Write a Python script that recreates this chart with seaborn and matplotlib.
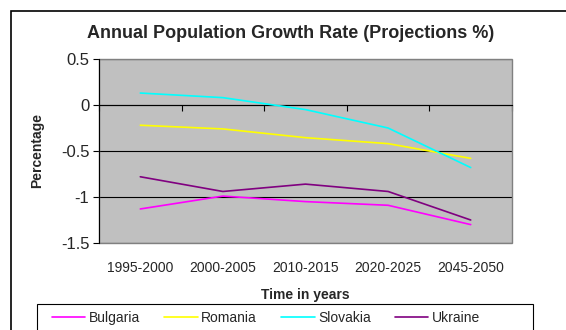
import numpy as np
import pandas as pd
import matplotlib
matplotlib.use("Agg")
import matplotlib.pyplot as plt
from matplotlib.patches import Rectangle
import seaborn as sns

periods = ["1995-2000", "2000-2005", "2010-2015", "2020-2025", "2045-2050"]
countries = ["Bulgaria", "Romania", "Slovakia", "Ukraine"]
bulgaria = [-1.13, -0.99, -1.05, -1.09, -1.30]
romania = [-0.22, -0.26, -0.355, -0.42, -0.58]
slovakia = [0.13, 0.08, -0.05, -0.25, -0.68]
ukraine = [-0.78, -0.94, -0.86, -0.94, -1.25]
colors = ["#FF00FF", "#FFFF00", "#00FFFF", "#800080"]

series = dict(zip(countries, [bulgaria, romania, slovakia, ukraine]))
df = pd.DataFrame(
    [(c, p, v) for c in countries for p, v in zip(periods, series[c])],
    columns=["country", "period", "value"],
)
df["pos"] = df["period"].map({p: i for i, p in enumerate(periods)})

sns.set_theme(style="white")
plt.rcParams["font.family"] = ["Liberation Sans", "DejaVu Sans"]

W, H = 566, 330
fig = plt.figure(figsize=(W / 100, H / 100), dpi=100)
fig.patch.set_facecolor("white")
ax = fig.add_axes([99 / W, 1 - 243 / H, 413 / W, 184 / H])
ax.set_facecolor("#C0C0C0")

sns.lineplot(
    data=df, x="pos", y="value", hue="country", hue_order=countries,
    palette=colors, linewidth=1.2, ax=ax, legend=False, zorder=3,
)

ax.set_xlim(-0.5, len(periods) - 0.5)
ax.set_ylim(-1.5, 0.5)
ax.set_yticks(np.arange(-1.5, 0.51, 0.5))
ax.set_yticklabels(["-1.5", "-1", "-0.5", "0", "0.5"])
ax.yaxis.grid(True, color="black", linewidth=0.8)
ax.set_axisbelow(True)

# category axis crosses at zero, with boundary ticks
ax.spines["bottom"].set_position(("data", 0))
ax.spines["bottom"].set_color("black")
ax.spines["bottom"].set_linewidth(0.8)
ax.set_xticks(np.arange(-0.5, len(periods), 1.0))
ax.set_xticklabels([])
ax.tick_params(axis="x", bottom=True, direction="out", length=4, width=0.8, color="black")
ax.set_xlabel("")

ax.spines["left"].set_color("black")
ax.spines["left"].set_linewidth(0.8)
ax.spines["top"].set_visible(False)
ax.spines["right"].set_visible(False)
ax.tick_params(axis="y", left=True, direction="out", length=4, width=0.8,
               color="black", labelsize=12, pad=3)
ax.set_ylabel("Percentage", fontsize=10, fontweight="bold", labelpad=12)

ax.add_patch(Rectangle((0, 0), 1, 1, transform=ax.transAxes, fill=False,
                       edgecolor="#808080", linewidth=1, zorder=2.4, clip_on=False))

# category labels along the bottom of the plot area
sec = ax.secondary_xaxis("bottom")
sec.set_xticks(range(len(periods)))
sec.set_xticklabels(periods)
sec.tick_params(axis="x", length=0, labelsize=10, pad=13)
sec.spines["bottom"].set_visible(False)
sec.set_xlabel("Time in years", fontsize=10, fontweight="bold", labelpad=9)

fig.text(291 / W, 1 - 34 / H, "Annual Population Growth Rate (Projections %)",
         ha="center", va="center", fontsize=13, fontweight="bold")

# outer chart border
fig.patches.append(Rectangle((11 / W, -0.1), 1.2, 1 - 11 / H + 0.1,
                             transform=fig.transFigure, fill=False,
                             edgecolor="black", linewidth=1.2))

# legend box
fig.patches.append(Rectangle((37 / W, -0.1), (533 - 37) / W, 1 - 304 / H + 0.1,
                             transform=fig.transFigure, fill=False,
                             edgecolor="black", linewidth=0.8))
handles = [plt.Line2D([], [], color=c, linewidth=1.2) for c in colors]
fig.legend(handles, countries, loc="center left",
           bbox_to_anchor=(52 / W, 1 - 318 / H), ncol=4, frameon=False,
           fontsize=10, handlelength=2.4, handletextpad=0.25, columnspacing=1.75,
           borderpad=0, borderaxespad=0)

fig.savefig("out.png", dpi=100)
